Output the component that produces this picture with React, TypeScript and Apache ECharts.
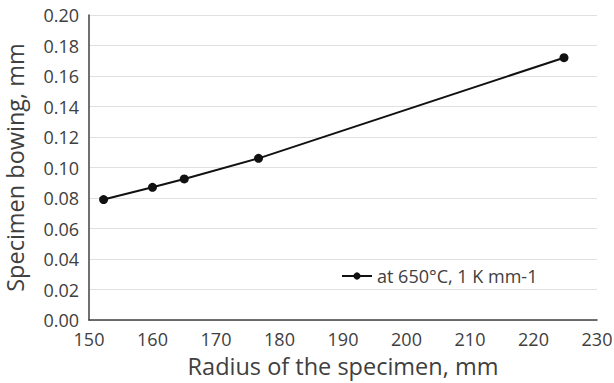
import React, { useEffect, useRef } from "react";
import * as echarts from "echarts";

const radius = [152.3, 160, 165, 176.7, 224.8];
const bowing = [0.079, 0.087, 0.0925, 0.106, 0.172];
const seriesName = "at 650°C, 1 K mm-1";

export default function App() {
  const ref = useRef<HTMLDivElement>(null);
  useEffect(() => {
    const chart = echarts.init(ref.current!, null, { renderer: "svg" });
    const font = "'Open Sans', sans-serif";
    chart.setOption({
      animation: false,
      grid: { left: 89, right: 17, top: 15, bottom: 63, outerBoundsMode: "none" },
      legend: {
        left: 336,
        top: 262,
        itemWidth: 30,
        itemHeight: 9,
        itemGap: 4,
        textStyle: { fontFamily: font, fontSize: 18, color: "#404040" },
        data: [seriesName],
      },
      xAxis: {
        type: "value",
        min: 150,
        max: 230,
        interval: 10,
        name: "Radius of the specimen, mm",
        nameLocation: "middle",
        nameGap: 34,
        nameTextStyle: { fontFamily: font, fontSize: 23.5, color: "#404040" },
        axisLine: { lineStyle: { color: "#404040", width: 1.5 } },
        axisTick: { show: false },
        axisLabel: { fontFamily: font, fontSize: 18, color: "#404040", margin: 10 },
        splitLine: { show: false },
      },
      yAxis: {
        type: "value",
        min: 0,
        max: 0.2,
        interval: 0.02,
        name: "Specimen bowing, mm",
        nameLocation: "middle",
        nameGap: 62,
        nameTextStyle: { fontFamily: font, fontSize: 23.5, color: "#404040" },
        axisLine: { show: true, lineStyle: { color: "#404040", width: 1.5 } },
        axisTick: { show: false },
        axisLabel: {
          fontFamily: font,
          fontSize: 18,
          color: "#404040",
          margin: 10,
          formatter: (v: number) => v.toFixed(2),
        },
        splitLine: { lineStyle: { color: "#e0e0e0", width: 1 } },
      },
      series: [
        {
          name: seriesName,
          type: "line",
          data: radius.map((r, i) => [r, bowing[i]]),
          symbol: "circle",
          symbolSize: 9,
          lineStyle: { color: "#111", width: 2 },
          itemStyle: { color: "#111" },
        },
      ],
    });
    return () => chart.dispose();
  }, []);
  return (
    <div
      ref={ref}
      style={{ position: "fixed", left: 0, top: 0, width: 614, height: 383, background: "#fff" }}
    />
  );
}
